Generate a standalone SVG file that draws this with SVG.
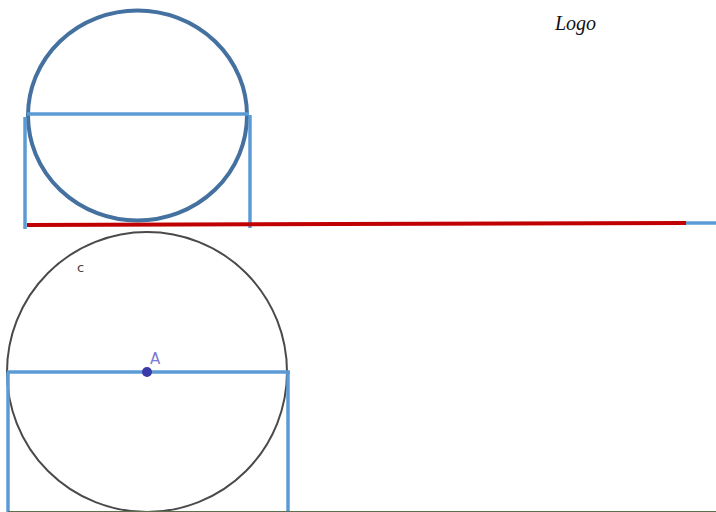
<svg xmlns="http://www.w3.org/2000/svg" width="716" height="512" viewBox="0 0 716 512">
<style>
.blue{stroke:#5b9bd5;stroke-width:3.5;fill:none}
.circ1{stroke:#44719f;stroke-width:4;fill:none}
.circ2{stroke:#4a4a4a;stroke-width:2;fill:none}
.red{stroke:#c00000;stroke-width:4;fill:none}
</style>
<rect width="716" height="512" fill="#ffffff"/>
<g id="logo"><text x="555" y="30" font-family="Liberation Serif, serif" font-style="italic" font-size="20" fill="#111">Logo</text></g>
<g id="top-figure">
<ellipse class="circ1" cx="137.5" cy="115.5" rx="109.5" ry="105"/>
<line class="blue" x1="27" y1="114" x2="249" y2="114"/>
<line class="blue" x1="25" y1="117" x2="25" y2="229"/>
<line class="blue" x1="250" y1="115" x2="250" y2="228"/>
</g>
<g id="baseline">
<line class="red" x1="27" y1="225" x2="686" y2="223"/>
<line class="blue" x1="686" y1="223" x2="716" y2="223"/>
</g>
<g id="bottom-figure">
<circle class="circ2" cx="147" cy="372" r="140"/>
<text x="77" y="272" font-family="DejaVu Sans, sans-serif" font-size="13" fill="#444">c</text>
<line class="blue" x1="7" y1="372" x2="290" y2="372"/>
<line class="blue" x1="8" y1="372" x2="8" y2="512"/>
<line class="blue" x1="288" y1="372" x2="288" y2="512"/>
<circle cx="147" cy="372" r="5" fill="#3a3aa8"/>
<text x="150" y="364" font-family="DejaVu Sans, sans-serif" font-size="15" fill="#7a7ad0">A</text>
</g>
<line x1="8" y1="511.5" x2="716" y2="511.5" stroke="#5a6e50" stroke-width="1"/>
</svg>
